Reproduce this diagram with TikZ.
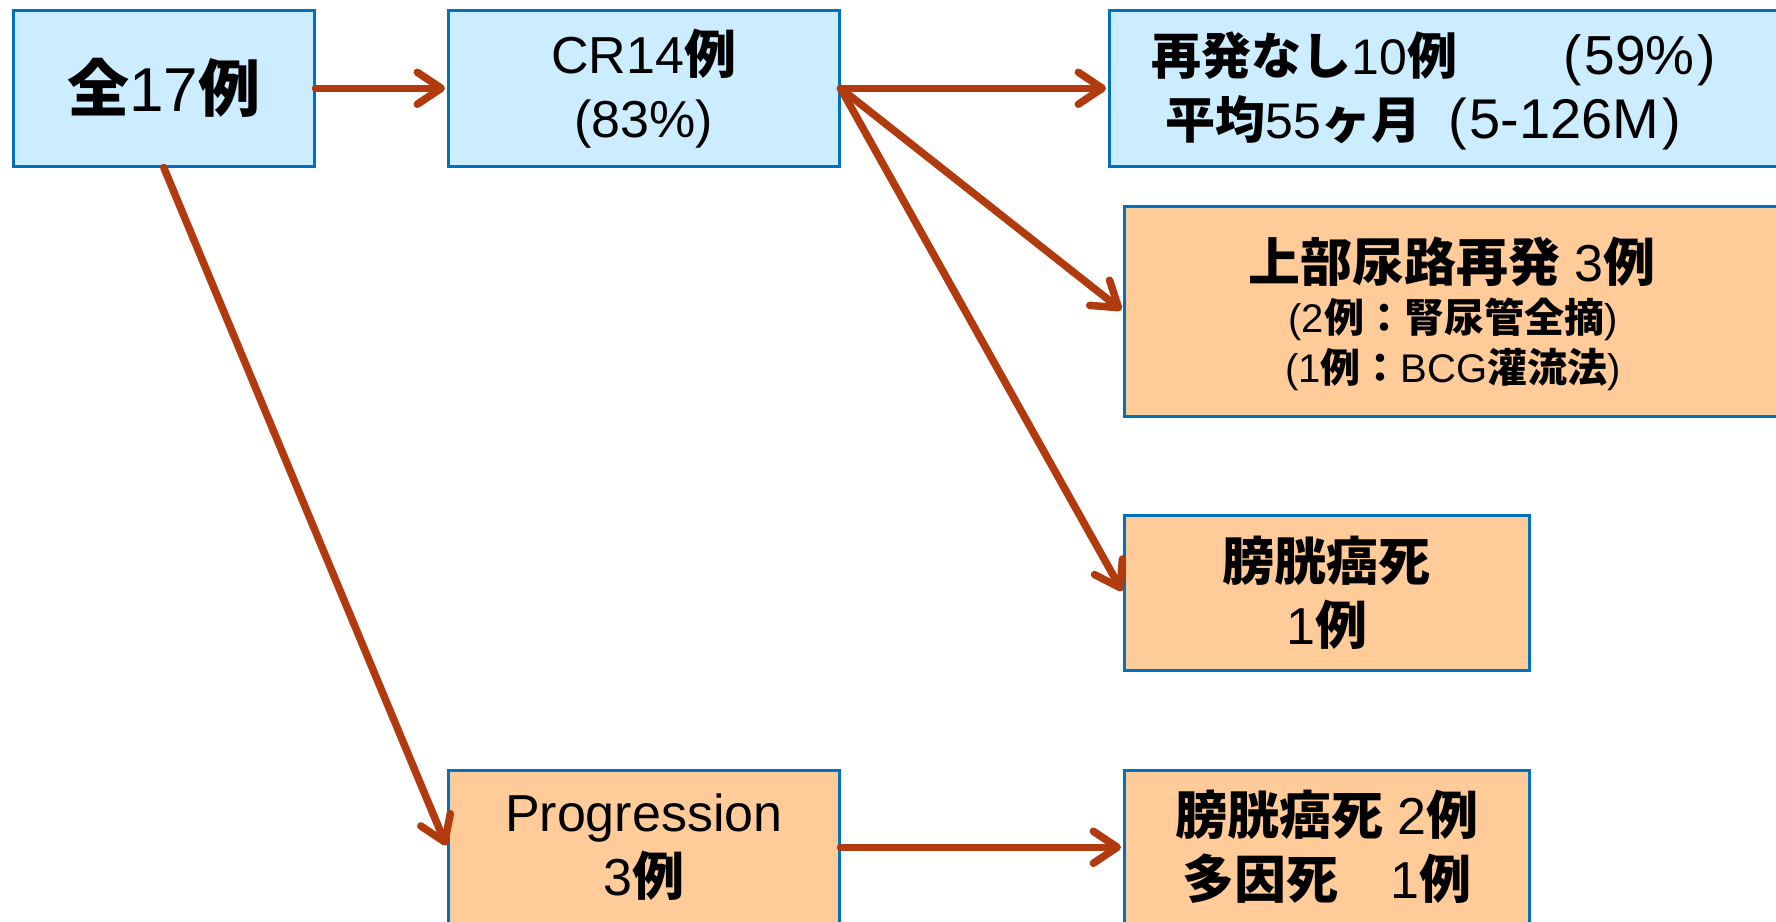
\documentclass[tikz,border=0pt]{standalone}
\usepackage{fontspec}
\setmainfont{Liberation Sans}
\newfontfamily\jp{Noto Sans CJK JP}
\usetikzlibrary{arrows.meta}
\definecolor{bfill}{HTML}{CCECFF}
\definecolor{ofill}{HTML}{FFCC99}
\definecolor{bord}{HTML}{0070C0}
\definecolor{arrc}{HTML}{B13A0E}
\newcommand\J[1]{{\jp\bfseries #1}}
\newcommand\LP{(\hspace{3pt}}
\newcommand\RP{\hspace{3pt})}
\tikzset{
  box/.style={draw=bord, line width=2.5pt, rectangle, inner sep=0pt, anchor=north west, align=center},
  bluebox/.style={box, fill=bfill},
  orangebox/.style={box, fill=ofill},
  big/.style={font=\fontsize{52}{64}\selectfont},
  mid/.style={font=\fontsize{40}{51}\selectfont},
  arr/.style={draw=arrc, line width=7.5pt, line cap=round, -{Straight Barb[round,length=24pt,width=32pt]}, shorten >=2pt},
}
\begin{document}
\begin{tikzpicture}[x=1pt,y=-1pt]
\useasboundingbox (0,0) rectangle (1776,921);
\clip (0,0) rectangle (1776,921);
\node[bluebox, minimum width=301pt, minimum height=156pt, font=\fontsize{62}{70}\selectfont] (b1) at (12,9) {\J{全}17\J{例}};
\node[bluebox, big, minimum width=391pt, minimum height=156pt] (b2) at (447,9) {CR14\J{例}\\(83\%)};
\node[bluebox, minimum width=700pt, minimum height=156pt] (b3) at (1108,9) {};
\node[anchor=west, align=left, font=\fontsize{50}{64}\selectfont] (t3) at (1148,91) {\J{再発なし}10\J{例}\hspace{106pt}{\fontsize{55}{64}\selectfont\LP 59\%\RP}\\\hspace{14pt}\J{平均}55\J{ヶ月}\hspace{27pt}{\fontsize{56}{64}\selectfont\LP 5-126M\RP}};
\node[orangebox, minimum width=680pt, minimum height=210pt] (b4) at (1123,205) {};
\node[font=\fontsize{52}{58}\selectfont] (t4a) at (1452,262) {\J{上部尿路再発} 3\J{例}};
\node[mid] (t4b) at (1453,319) {(2\J{例：腎尿管全摘})};
\node[mid] (t4c) at (1453,370) {(1\J{例：}BCG\J{灌流法})};
\node[orangebox, big, minimum width=405pt, minimum height=155pt] (b5) at (1123,514) {\J{膀胱癌死}\\1\J{例}};
\node[orangebox, big, minimum width=391pt, minimum height=154pt] (b6) at (447,769) {Progression\\3\J{例}};
\node[orangebox, big, minimum width=405pt, minimum height=154pt] (b7) at (1123,769) {\J{膀胱癌死} 2\J{例}\\\J{多因死　}1\J{例}};
\draw[arr] (b1.east) -- (b2.west);
\draw[arr] (b2.east) -- (b3.west);
\draw[arr] (b2.east) -- (b4.west);
\draw[arr] (b2.east) -- (b5.west);
\draw[arr] (b1.south) -- (b6.west);
\draw[arr] (b6.east) -- (b7.west);
\end{tikzpicture}
\end{document}
